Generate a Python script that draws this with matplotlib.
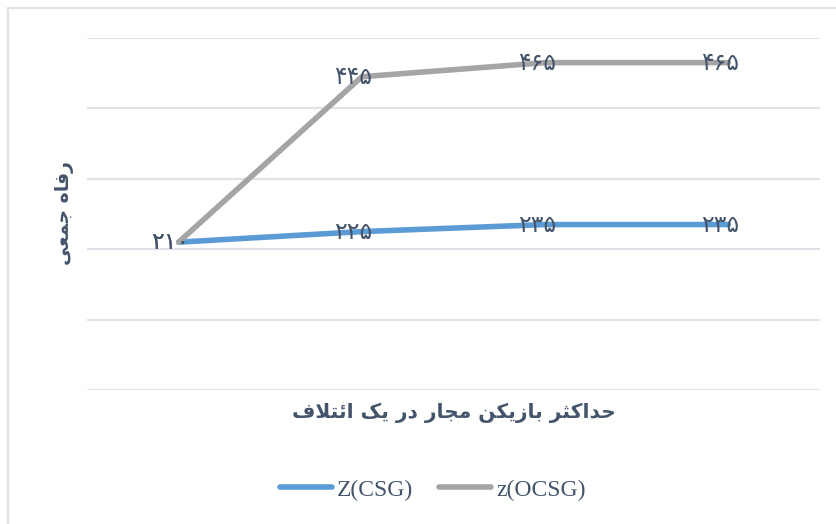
import matplotlib
matplotlib.use('Agg')
import matplotlib.pyplot as plt
from matplotlib.patches import Rectangle

# داده ها
categories = ['1', '2', '3', '4']
z_csg = [210, 225, 235, 235]
z_ocsg = [210, 445, 465, 465]
series_names = ['Z(CSG)', 'z(OCSG)']
x_title = 'حداکثر بازیکن مجار در یک ائتلاف'
y_title = 'رفاه جمعی'

text_color = '#44546A'
grid_color = '#DFE3E9'

# matplotlib does no arabic shaping, so map letters to presentation forms
# (isolated, final, initial, medial)
FORMS = {
    'ا': ('\uFE8D', '\uFE8E'),
    'د': ('\uFEA9', '\uFEAA'),
    'ر': ('\uFEAD', '\uFEAE'),
    'ز': ('\uFEAF', '\uFEB0'),
    'ب': ('\uFE8F', '\uFE90', '\uFE91', '\uFE92'),
    'ت': ('\uFE95', '\uFE96', '\uFE97', '\uFE98'),
    'ث': ('\uFE99', '\uFE9A', '\uFE9B', '\uFE9C'),
    'ج': ('\uFE9D', '\uFE9E', '\uFE9F', '\uFEA0'),
    'ح': ('\uFEA1', '\uFEA2', '\uFEA3', '\uFEA4'),
    'ع': ('\uFEC9', '\uFECA', '\uFECB', '\uFECC'),
    'ف': ('\uFED1', '\uFED2', '\uFED3', '\uFED4'),
    'ل': ('\uFEDD', '\uFEDE', '\uFEDF', '\uFEE0'),
    'م': ('\uFEE1', '\uFEE2', '\uFEE3', '\uFEE4'),
    'ن': ('\uFEE5', '\uFEE6', '\uFEE7', '\uFEE8'),
    'ه': ('\uFEE9', '\uFEEA', '\uFEEB', '\uFEEC'),
    'ئ': ('\uFE89', '\uFE8A', '\uFE8B', '\uFE8C'),
    'ک': ('\uFB8E', '\uFB8F', '\uFB90', '\uFB91'),
    'ی': ('\uFBFC', '\uFBFD', '\uFBFE', '\uFBFF'),
}


def shape(s):
    out = []
    i = 0
    while i < len(s):
        c = s[i]
        if c not in FORMS:
            out.append(c)
            i += 1
            continue
        prev = s[i - 1] if i > 0 else ''
        join_prev = prev in FORMS and len(FORMS[prev]) == 4
        # lam-alef ligature
        if c == 'ل' and i + 1 < len(s) and s[i + 1] == 'ا':
            out.append('\uFEFC' if join_prev else '\uFEFB')
            i += 2
            continue
        nxt = s[i + 1] if i + 1 < len(s) else ''
        join_next = len(FORMS[c]) == 4 and nxt in FORMS
        f = FORMS[c]
        if join_prev and join_next:
            out.append(f[3])
        elif join_prev:
            out.append(f[1])
        elif join_next:
            out.append(f[2])
        else:
            out.append(f[0])
        i += 1
    return ''.join(out[::-1])


def fa_digits(v):
    return str(v).translate(str.maketrans('0123456789', '۰۱۲۳۴۵۶۷۸۹'))


fig = plt.figure(figsize=(8.36, 5.24), dpi=100)
ax = fig.add_axes([87 / 836, 134 / 524, 733 / 836, 352 / 524])

x = range(len(categories))
ax.plot(x, z_csg, color='#5B9BD5', linewidth=4, solid_capstyle='round',
        label=series_names[0])
ax.plot(x, z_ocsg, color='#A5A5A5', linewidth=4, solid_capstyle='round',
        label=series_names[1])

# برچسب داده ها
for vals in (z_csg, z_ocsg):
    for i, v in enumerate(vals):
        ax.annotate(fa_digits(v), (i, v), xytext=(-6, 0),
                    textcoords='offset points', ha='center', va='center',
                    fontsize=17, color=text_color, family=['DejaVu Sans'])

ax.set_xlim(-0.5, 3.5)
ax.set_ylim(0, 500)
ax.set_yticks(range(0, 501, 100))
ax.set_xticks([])
ax.tick_params(axis='y', length=0, labelleft=False)
ax.yaxis.grid(True, color=grid_color, linewidth=1.5)
ax.set_axisbelow(True)
for sp in ax.spines.values():
    sp.set_visible(False)

fig.text(454 / 836, 1 - 413 / 524, shape(x_title), ha='center', va='center',
         fontsize=14.5, fontweight='bold', color=text_color,
         family=['DejaVu Sans'])
fig.text(65 / 836, 1 - 213 / 524, shape(y_title), ha='center', va='center',
         rotation=90, fontsize=13.5, fontweight='bold', color=text_color,
         family=['DejaVu Sans'])

fig.legend(loc='center', bbox_to_anchor=(433 / 836, 1 - 490 / 524), ncol=2,
           frameon=False, handlelength=2.2, handletextpad=0.2,
           columnspacing=1.1, labelcolor=text_color,
           prop={'family': 'Liberation Serif', 'size': 17})

# chart border
fig.patches.append(Rectangle((8 / 836, -0.1), 1.1, 1.1 - 8 / 524,
                             transform=fig.transFigure, fill=False,
                             edgecolor=grid_color, linewidth=1.5))

fig.savefig('out.png', dpi=100)
